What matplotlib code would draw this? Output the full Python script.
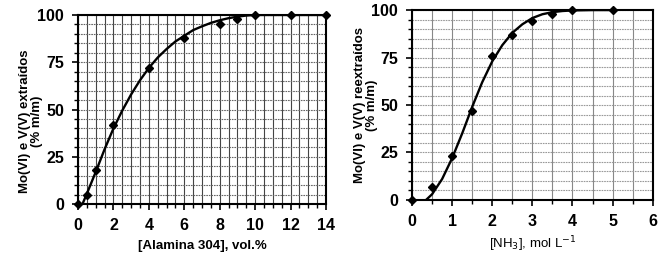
import matplotlib
matplotlib.use("Agg")
import matplotlib.pyplot as plt
from matplotlib.ticker import MultipleLocator

plt.rcParams['font.family'] = ['Liberation Sans', 'DejaVu Sans']

# left panel: extraction vs Alamina 304
alamina_x = [0, 0.5, 1, 2, 4, 6, 8, 9, 10, 12, 14]
extr_y = [0, 5, 18, 42, 72, 88, 95, 98, 100, 100, 100]
# fitted curve
alamina_fit_x = [0.25, 0.5, 1, 1.5, 2, 2.5, 3, 3.5, 4, 4.5, 5, 5.5, 6, 6.5, 7, 7.5, 8, 8.5, 9, 9.5, 10, 12, 14]
alamina_fit_y = [0, 5.5, 17, 29, 40, 49.5, 58, 65.5, 72, 77.5, 82, 86, 89, 92, 94, 95.8, 97.2, 98.3, 99.1, 99.7, 100, 100, 100]

# right panel: stripping vs NH3
nh3_x = [0, 0.5, 1, 1.5, 2, 2.5, 3, 3.5, 4, 5]
reextr_y = [0, 7, 23, 47, 76, 87, 94, 98, 100, 100]
nh3_fit_x = [0.35, 0.5, 0.75, 1, 1.25, 1.5, 1.75, 2, 2.25, 2.5, 2.75, 3, 3.25, 3.5, 3.75, 4, 4.5, 5]
nh3_fit_y = [0, 3, 11, 22, 35, 49, 62, 73, 81.5, 88, 92.5, 95.8, 97.8, 98.9, 99.5, 99.8, 100, 100]

fig = plt.figure(figsize=(6.64, 2.58), dpi=100)
ax1 = fig.add_axes([0.1175, 0.209, 0.3735, 0.733])
ax2 = fig.add_axes([0.6205, 0.225, 0.3625, 0.736])


def style_axes(ax, xmax, xmajor, vcol, hcol):
    ax.set_xlim(0, xmax)
    ax.set_ylim(0, 100)
    ax.xaxis.set_major_locator(MultipleLocator(xmajor))
    ax.xaxis.set_minor_locator(MultipleLocator(0.5))
    ax.yaxis.set_major_locator(MultipleLocator(25))
    ax.yaxis.set_minor_locator(MultipleLocator(5))
    ax.grid(True, which='both', axis='x', color=vcol, linewidth=0.8, zorder=1)
    ax.grid(True, which='both', axis='y', color=hcol, linewidth=0.8, linestyle=(0, (1.5, 0.8)), zorder=1)
    ax.set_axisbelow(True)
    for s in ax.spines.values():
        s.set_linewidth(1.5)
        s.set_color('black')
    ax.tick_params(which='major', direction='out', length=4, width=1.2,
                   labelsize=11.5, pad=6)
    ax.tick_params(which='minor', direction='out', length=3, width=1)
    for lab in ax.get_xticklabels() + ax.get_yticklabels():
        lab.set_fontweight('bold')


style_axes(ax1, 14, 2, '#444444', '#666666')
ax1.plot(alamina_fit_x, alamina_fit_y, color='black', lw=1.7, zorder=3)
ax1.plot(alamina_x, extr_y, linestyle='none', marker='D', ms=4.5, color='black', zorder=4, clip_on=False)
ax1.set_xlabel('[Alamina 304], vol.%', fontsize=9.5, fontweight='bold', labelpad=5)
ax1.set_ylabel('Mo(VI) e V(V) extraídos\n(% m/m)', fontsize=9.5, fontweight='bold', linespacing=1.0)
ax1.yaxis.set_label_coords(-0.14, 0.44)

style_axes(ax2, 6, 1, '#888888', '#999999')
ax2.plot(nh3_fit_x, nh3_fit_y, color='black', lw=1.7, zorder=3)
ax2.plot(nh3_x, reextr_y, linestyle='none', marker='D', ms=4.5, color='black', zorder=4, clip_on=False)
ax2.set_xlabel('[NH$_3$], mol L$^{-1}$', fontsize=9.5, labelpad=4)
ax2.set_ylabel('Mo(VI) e V(V) reextraídos\n(% m/m)', fontsize=9.5, fontweight='bold', linespacing=1.0)
ax2.yaxis.set_label_coords(-0.142, 0.5)

fig.savefig('out.png', dpi=100)
